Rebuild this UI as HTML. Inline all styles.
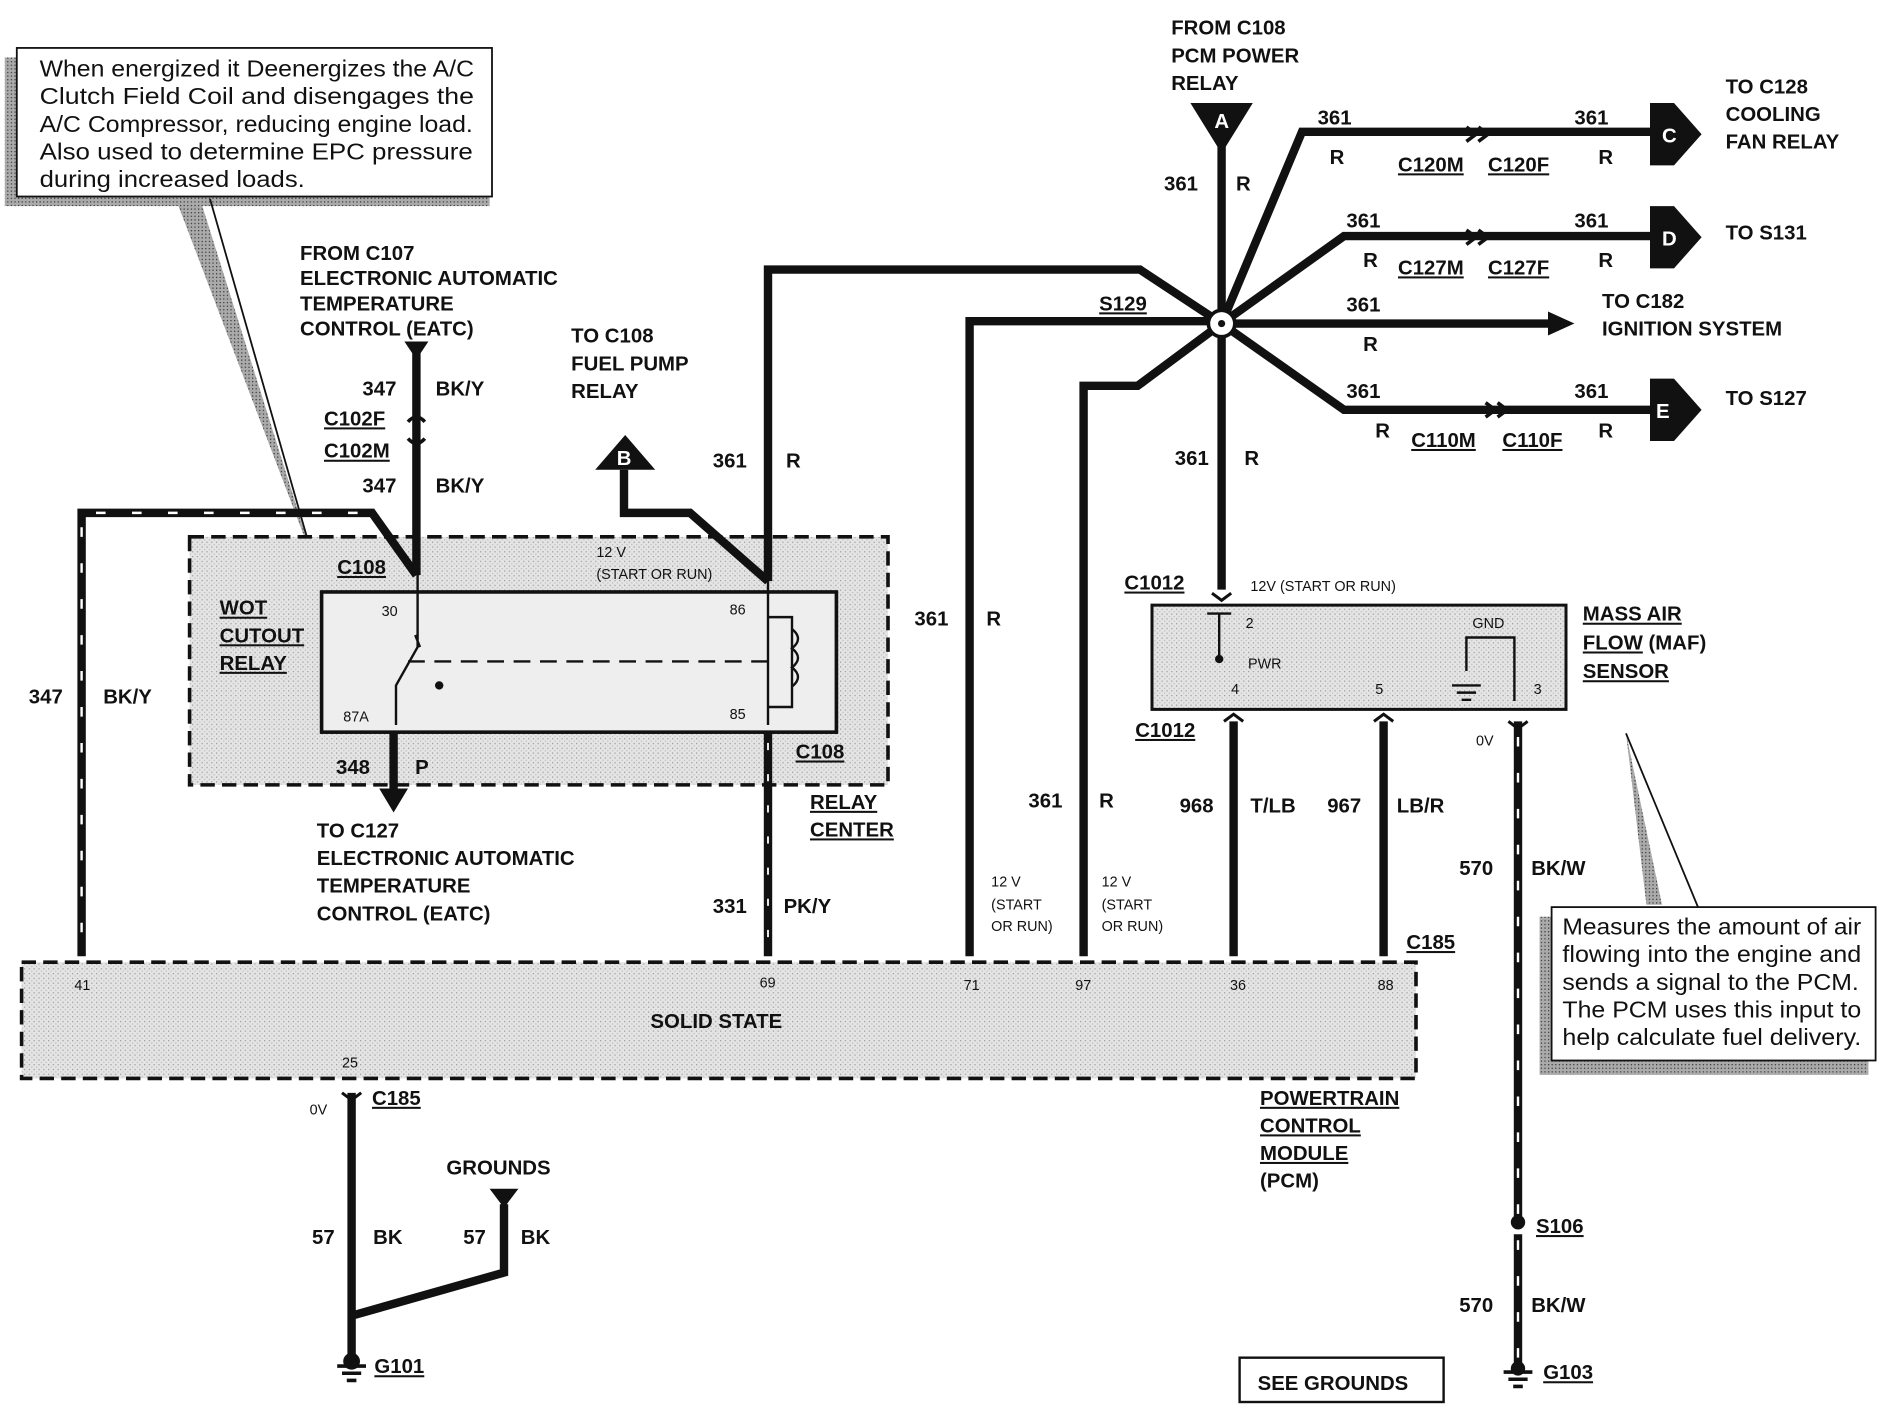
<!DOCTYPE html>
<html><head><meta charset="utf-8"><style>
html,body{margin:0;padding:0;background:#fff}
svg{display:block}
text{font-family:"Liberation Sans",sans-serif;font-weight:bold;fill:#111}
.n{font-weight:normal}
.s{font-size:12px}
.m{font-size:17px}
.u{text-decoration:underline}
</style></head><body>
<svg width="1878" height="1408" viewBox="0 0 1565 1175" preserveAspectRatio="none">
<defs>
<pattern id="dot" width="4" height="4" patternUnits="userSpaceOnUse"><rect width="4" height="4" fill="#e4e4e4"/><rect width="1" height="1" fill="#999"/><rect x="2" y="2" width="1" height="1" fill="#bbb"/></pattern>
<pattern id="dk" width="3" height="3" patternUnits="userSpaceOnUse"><rect width="3" height="3" fill="#aaa"/><rect width="1" height="1" fill="#333"/></pattern>
</defs>
<g fill="none" stroke="#111">
<rect x="4" y="48" width="404" height="124" fill="url(#dk)" stroke="none"/>
<rect x="14" y="40" width="396" height="124" fill="#fff" stroke-width="1.5"/>
<polygon points="148,170 168,170 262,470" fill="url(#dk)" stroke="none"/>
<line x1="175" y1="166" x2="262" y2="470" stroke-width="1.5"/>
<polygon points="1355,612 1372,755 1385,755" fill="url(#dk)" stroke="none"/>
<line x1="1355" y1="612" x2="1415" y2="757" stroke-width="1.5"/>
<rect x="1283" y="765" width="274" height="132" fill="url(#dk)" stroke="none"/>
<rect x="1293" y="757" width="270" height="128" fill="#fff" stroke-width="1.5"/>
<rect x="158" y="448" width="582" height="207" fill="url(#dot)" stroke-width="3" stroke-dasharray="12,6"/>
<rect x="268" y="494" width="429" height="117" fill="#eee" stroke-width="3"/>
<line x1="340" y1="552" x2="640" y2="552" stroke-width="2" stroke-dasharray="14,8"/>
<path d="M348,478 V500 M348,500 V540 L330,572 V605 M350,540 l-4,-10" stroke-width="2"/>
<circle cx="366" cy="572" r="3" fill="#111"/>
<path d="M640,485 V605 M640,515 H660 V590 H640" stroke-width="2"/>
<path d="M660,525 q10,8 0,16 q10,8 0,16 q10,8 0,16" stroke-width="2"/>
<rect x="18" y="803" width="1162" height="97" fill="url(#dot)" stroke-width="3" stroke-dasharray="12,6"/>
<rect x="960" y="505" width="345" height="87" fill="url(#dot)" stroke-width="2.5"/>
<path d="M1016,512 V550 M1006,512 H1026" stroke-width="2"/><circle cx="1016" cy="550" r="3" fill="#111"/>
<path d="M1222,560 V532 H1262 V585 M1210,572 h24 M1214,578 h16 M1218,584 h8" stroke-width="2"/>
<g stroke-width="7" stroke-linejoin="miter">
<path d="M68,798 V428 H310 L347,480"/>
<path d="M347,295 V480"/>
<path d="M520,392 V428 H575 L640,485"/>
<path d="M640,485 V225 H950 L1018,270"/>
<path d="M640,611 V798"/>
<path d="M328,611 V662"/>
<path d="M808,798 V268 H1018"/>
<path d="M903,798 V322 H948 L1018,270"/>
<path d="M1018,112 V492"/>
<path d="M1018,270 L1085,110 H1375"/>
<path d="M1018,270 L1120,197 H1375"/>
<path d="M1018,270 H1295"/>
<path d="M1018,270 L1120,342 H1375"/>
<path d="M1028,602 V798"/>
<path d="M1153,602 V798"/>
<path d="M1265,602 V1020 M1265,1030 V1140"/>
<path d="M293,912 V1135 M293,1098 L420,1062 V1005"/>
</g>
<path d="M68,440 V798 M80,428 H300" stroke="#fff" stroke-width="2" stroke-dasharray="8,22"/>
<path d="M1265,615 V1140" stroke="#fff" stroke-width="2" stroke-dasharray="8,22"/>
<path d="M640,620 V798" stroke="#fff" stroke-width="1.5" stroke-dasharray="6,20"/>
</g>
<g fill="#111">
<polygon points="992,86 1044,86 1018,128"/>
<polygon points="337,285 357,285 347,300"/>
<polygon points="496,392 546,392 521,363"/>
<polygon points="316,658 340,658 328,678"/>
<polygon points="408,992 432,992 420,1008"/>
<polygon points="1290,260 1312,270 1290,280"/>
<polygon points="1375,86 1395,86 1418,112 1395,138 1375,138"/>
<polygon points="1375,172 1395,172 1418,198 1395,224 1375,224"/>
<polygon points="1375,316 1395,316 1418,342 1395,368 1375,368"/>
<circle cx="1265" cy="1020" r="6"/>
<path d="M1222,106 l8,6 l-8,6 M1232,106 l8,6 l-8,6 M1222,192 l8,6 l-8,6 M1232,192 l8,6 l-8,6 M1238,336 l8,6 l-8,6 M1248,336 l8,6 l-8,6" stroke="#111" stroke-width="3" fill="none"/>
<path d="M340,352 q7,-8 14,0 M340,366 q7,8 14,0" stroke="#111" stroke-width="3" fill="none"/>
<path d="M1010,495 l8,6 l8,-6 M1020,602 l8,-6 l8,6 M1145,602 l8,-6 l8,6 M1257,602 l8,6 l8,-6 M285,912 l8,6 l8,-6" stroke="#111" stroke-width="2.5" fill="none"/>
<path d="M281,1140 h24 M285,1146 h16 M289,1152 h8 M1253,1145 h24 M1257,1151 h16 M1261,1157 h8" stroke="#111" stroke-width="3"/>
<circle cx="293" cy="1136" r="7"/><circle cx="1265" cy="1142" r="6"/>
</g>
<circle cx="1018" cy="270" r="11" fill="#fff" stroke="#111" stroke-width="3"/>
<circle cx="1018" cy="270" r="3" fill="#111"/>
<text x="1012" y="107" style="fill:#fff" class="m">A</text>
<text x="514" y="388" style="fill:#fff" class="m">B</text>
<text x="1385" y="119" style="fill:#fff" class="m">C</text>
<text x="1385" y="205" style="fill:#fff" class="m">D</text>
<text x="1380" y="349" style="fill:#fff" class="m">E</text>
<rect x="1033" y="1133" width="170" height="37" fill="#fff" stroke="#111" stroke-width="2"/>
<g font-size="19">
<text class="n" x="33" y="64" textLength="362" lengthAdjust="spacingAndGlyphs">When energized it Deenergizes the A/C</text>
<text class="n" x="33" y="87" textLength="362" lengthAdjust="spacingAndGlyphs">Clutch Field Coil and disengages the</text>
<text class="n" x="33" y="110" textLength="361" lengthAdjust="spacingAndGlyphs">A/C Compressor, reducing engine load.</text>
<text class="n" x="33" y="133" textLength="361" lengthAdjust="spacingAndGlyphs">Also used to determine EPC pressure</text>
<text class="n" x="33" y="156" textLength="221" lengthAdjust="spacingAndGlyphs">during increased loads.</text>
<text class="n" x="1302" y="780" textLength="249" lengthAdjust="spacingAndGlyphs">Measures the amount of air</text>
<text class="n" x="1302" y="803" textLength="249" lengthAdjust="spacingAndGlyphs">flowing into the engine and</text>
<text class="n" x="1302" y="826" textLength="247" lengthAdjust="spacingAndGlyphs">sends a signal to the PCM.</text>
<text class="n" x="1302" y="849" textLength="249" lengthAdjust="spacingAndGlyphs">The PCM uses this input to</text>
<text class="n" x="1302" y="872" textLength="249" lengthAdjust="spacingAndGlyphs">help calculate fuel delivery.</text>
</g>
<g>
<text class="m" x="250" y="217">FROM C107</text>
<text class="m" x="250" y="238">ELECTRONIC AUTOMATIC</text>
<text class="m" x="250" y="259">TEMPERATURE</text>
<text class="m" x="250" y="280">CONTROL (EATC)</text>
<text class="m" x="476" y="286">TO C108</text>
<text class="m" x="476" y="309">FUEL PUMP</text>
<text class="m" x="476" y="332">RELAY</text>
<text class="m" x="976" y="29">FROM C108</text>
<text class="m" x="976" y="52">PCM POWER</text>
<text class="m" x="976" y="75">RELAY</text>
<text class="m" x="1438" y="78">TO C128</text>
<text class="m" x="1438" y="101">COOLING</text>
<text class="m" x="1438" y="124">FAN RELAY</text>
<text class="m" x="1438" y="200">TO S131</text>
<text class="m" x="1335" y="257">TO C182</text>
<text class="m" x="1335" y="280">IGNITION SYSTEM</text>
<text class="m" x="1438" y="338">TO S127</text>
<text class="m" x="302" y="330">347</text><text class="m" x="363" y="330">BK/Y</text>
<text class="m u" x="270" y="355">C102F</text>
<text class="m u" x="270" y="382">C102M</text>
<text class="m" x="302" y="411">347</text><text class="m" x="363" y="411">BK/Y</text>
<text class="m u" x="281" y="479">C108</text>
<text class="m u" x="183" y="513">WOT</text>
<text class="m u" x="183" y="536">CUTOUT</text>
<text class="m u" x="183" y="559">RELAY</text>
<text class="m" x="24" y="587">347</text><text class="m" x="86" y="587">BK/Y</text>
<text class="m" x="280" y="646">348</text><text class="m" x="346" y="646">P</text>
<text class="m" x="264" y="699">TO C127</text>
<text class="m" x="264" y="722">ELECTRONIC AUTOMATIC</text>
<text class="m" x="264" y="745">TEMPERATURE</text>
<text class="m" x="264" y="768">CONTROL (EATC)</text>
<text class="m" x="594" y="390">361</text><text class="m" x="655" y="390">R</text>
<text class="m u" x="663" y="633">C108</text>
<text class="m u" x="675" y="675">RELAY</text>
<text class="m u" x="675" y="698">CENTER</text>
<text class="m" x="594" y="762">331</text><text class="m" x="653" y="762">PK/Y</text>
<text class="m" x="762" y="522">361</text><text class="m" x="822" y="522">R</text>
<text class="m" x="857" y="674">361</text><text class="m" x="916" y="674">R</text>
<text class="m u" x="916" y="259">S129</text>
<text class="m" x="970" y="159">361</text><text class="m" x="1030" y="159">R</text>
<text class="m" x="1098" y="104">361</text><text class="m" x="1108" y="137">R</text>
<text class="m u" x="1165" y="143">C120M</text><text class="m u" x="1240" y="143">C120F</text>
<text class="m" x="1312" y="104">361</text><text class="m" x="1332" y="137">R</text>
<text class="m" x="1122" y="190">361</text><text class="m" x="1136" y="223">R</text>
<text class="m u" x="1165" y="229">C127M</text><text class="m u" x="1240" y="229">C127F</text>
<text class="m" x="1312" y="190">361</text><text class="m" x="1332" y="223">R</text>
<text class="m" x="1122" y="260">361</text><text class="m" x="1136" y="293">R</text>
<text class="m" x="1122" y="332">361</text><text class="m" x="1146" y="365">R</text>
<text class="m u" x="1176" y="373">C110M</text><text class="m u" x="1252" y="373">C110F</text>
<text class="m" x="1312" y="332">361</text><text class="m" x="1332" y="365">R</text>
<text class="m" x="979" y="388">361</text><text class="m" x="1037" y="388">R</text>
<text class="m u" x="937" y="492">C1012</text>
<text class="m u" x="1319" y="518">MASS AIR</text>
<text class="m" x="1319" y="542"><tspan text-decoration="underline">FLOW</tspan> (MAF)</text>
<text class="m u" x="1319" y="566">SENSOR</text>
<text class="m u" x="946" y="615">C1012</text>
<text class="m" x="983" y="678">968</text><text class="m" x="1042" y="678">T/LB</text>
<text class="m" x="1106" y="678">967</text><text class="m" x="1164" y="678">LB/R</text>
<text class="m" x="1216" y="730">570</text><text class="m" x="1276" y="730">BK/W</text>
<text class="m u" x="1172" y="792">C185</text>
<text class="m" x="542" y="858">SOLID STATE</text>
<text class="m u" x="310" y="922">C185</text>
<text class="m" x="372" y="980">GROUNDS</text>
<text class="m" x="260" y="1038">57</text><text class="m" x="311" y="1038">BK</text>
<text class="m" x="386" y="1038">57</text><text class="m" x="434" y="1038">BK</text>
<text class="m u" x="312" y="1146">G101</text>
<text class="m u" x="1050" y="922">POWERTRAIN</text>
<text class="m u" x="1050" y="945">CONTROL</text>
<text class="m u" x="1050" y="968">MODULE</text>
<text class="m" x="1050" y="991">(PCM)</text>
<text class="m u" x="1280" y="1029">S106</text>
<text class="m" x="1216" y="1095">570</text><text class="m" x="1276" y="1095">BK/W</text>
<text class="m u" x="1286" y="1151">G103</text>
<text class="m" x="1048" y="1160">SEE GROUNDS</text>
</g>
<g>
<text class="s n" x="497" y="465">12 V</text>
<text class="s n" x="497" y="483">(START OR RUN)</text>
<text class="s n" x="318" y="514">30</text><text class="s n" x="286" y="602">87A</text>
<text class="s n" x="608" y="513">86</text><text class="s n" x="608" y="600">85</text>
<text class="s n" x="1042" y="493">12V (START OR RUN)</text>
<text class="s n" x="1038" y="524">2</text><text class="s n" x="1040" y="558">PWR</text>
<text class="s n" x="1026" y="579">4</text><text class="s n" x="1146" y="579">5</text>
<text class="s n" x="1227" y="524">GND</text><text class="s n" x="1278" y="579">3</text>
<text class="s n" x="1230" y="622">0V</text>
<text class="s n" x="826" y="740">12 V</text><text class="s n" x="826" y="759">(START</text><text class="s n" x="826" y="777">OR RUN)</text>
<text class="s n" x="918" y="740">12 V</text><text class="s n" x="918" y="759">(START</text><text class="s n" x="918" y="777">OR RUN)</text>
<text class="s n" x="62" y="826">41</text><text class="s n" x="633" y="824">69</text>
<text class="s n" x="803" y="826">71</text><text class="s n" x="896" y="826">97</text>
<text class="s n" x="1025" y="826">36</text><text class="s n" x="1148" y="826">88</text>
<text class="s n" x="285" y="891">25</text><text class="s n" x="258" y="930">0V</text>
</g>
</svg>
</body></html>
